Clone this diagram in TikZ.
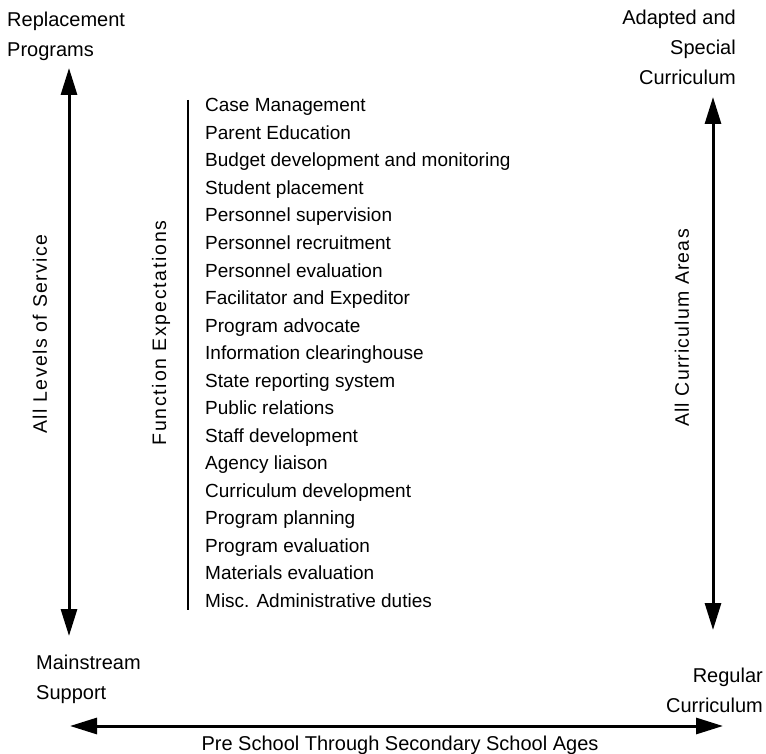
\documentclass[tikz,border=0pt]{standalone}
\usepackage{fontspec}
\setmainfont{Liberation Sans}
\usetikzlibrary{arrows.meta}
\begin{document}
\begin{tikzpicture}[x=1pt,y=-1pt,
  lbl/.style={font=\fontsize{20}{30}\selectfont, inner sep=0pt},
  item/.style={font=\fontsize{19}{27}\selectfont, inner sep=0pt, anchor=base west},
  rot/.style={inner sep=0pt, rotate=90},
  bigarrow/.style={line width=3pt, {Triangle[length=27pt,width=16pt]}-{Triangle[length=27pt,width=16pt]}}
]
\useasboundingbox (0,0) rectangle (766,754);
% corner labels (anchor = baseline of the last line)
\node[lbl, anchor=base west, align=left] (repl) at (7,57) {Replacement\\Programs};
\node[lbl, anchor=base east, align=right] (adap) at (736,85) {Adapted and\\Special\\Curriculum};
\node[lbl, anchor=base west, align=left] (main) at (36,699) {Mainstream\\Support};
\node[lbl, anchor=base east, align=right] (regu) at (763,712) {Regular\\Curriculum};
\node[lbl, anchor=base] (ages) at (400,750) {Pre School Through Secondary School Ages};
% arrow end points
\coordinate (lt) at (69,68);
\coordinate (lb) at (69,636);
\coordinate (rt) at (713,97);
\coordinate (rb) at (713,630);
\coordinate (hl) at (70,726);
\coordinate (hr) at (723,726);
\draw[bigarrow] (lt) -- (lb);
\draw[bigarrow] (rt) -- (rb);
\draw[bigarrow] (hl) -- (hr);
% rotated labels
\node[rot, font=\fontsize{19.5}{24}\selectfont\addfontfeature{LetterSpace=7}] (lev) at (40,334) {All Levels of Service};
\node[rot, font=\fontsize{19.5}{24}\selectfont\addfontfeature{LetterSpace=9}] (fun) at (161,333) {Function Expectations};
\node[rot, font=\fontsize{19.5}{24}\selectfont\addfontfeature{LetterSpace=6}] (cur) at (682,328) {All Curriculum Areas};
% function bracket line
\coordinate (ft) at (188,100);
\coordinate (fb) at (188,610);
\draw[line width=2.4pt] (ft) -- (fb);
% list
\foreach \t [count=\i from 0] in {
  Case Management,
  Parent Education,
  Budget development and monitoring,
  Student placement,
  Personnel supervision,
  Personnel recruitment,
  Personnel evaluation,
  Facilitator and Expeditor,
  Program advocate,
  Information clearinghouse,
  State reporting system,
  Public relations,
  Staff development,
  Agency liaison,
  Curriculum development,
  Program planning,
  Program evaluation,
  Materials evaluation,
  Misc. Administrative duties}
{\node[item] (it\i) at (205,{112+27.5*\i}) {\t};}
\end{tikzpicture}
\end{document}
